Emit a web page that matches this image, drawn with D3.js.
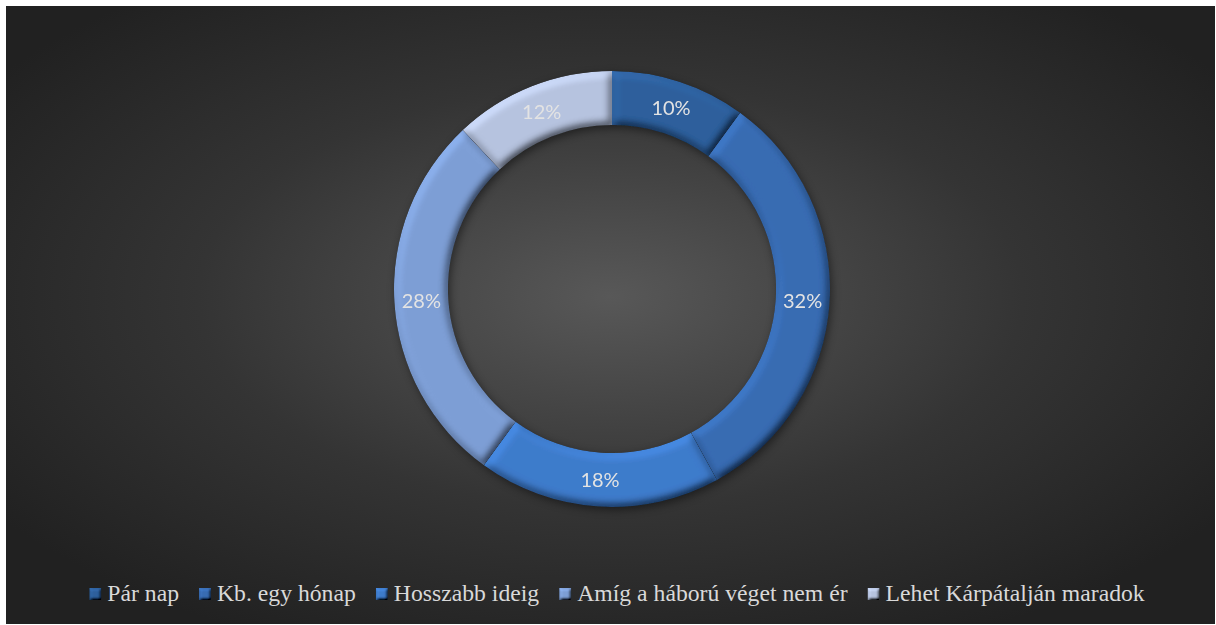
<!DOCTYPE html>
<html>
<head>
<meta charset="utf-8">
<script src="https://cdn.jsdelivr.net/npm/d3@7"></script>
<style>
  html, body { margin: 0; padding: 0; background: #ffffff; }
</style>
</head>
<body>
<svg id="chart" width="1216" height="625"></svg>
<script>
// Data
const categories = ["Pár nap", "Kb. egy hónap", "Hosszabb ideig", "Amíg a háború véget nem ér", "Lehet Kárpátalján maradok"];
const values = [10, 32, 18, 28, 12];
const colors = ["#2d5f9c", "#376bb2", "#3e7bcb", "#7d9ed5", "#b6c3df"];

const svg = d3.select("#chart");
const width = +svg.attr("width");
const height = +svg.attr("height");

const defs = svg.append("defs");

// background gradient
const bg = defs.append("radialGradient")
  .attr("id", "bgGrad")
  .attr("cx", "50%").attr("cy", "47%").attr("r", "62%");
bg.append("stop").attr("offset", "0%").attr("stop-color", "#585858");
bg.append("stop").attr("offset", "55%").attr("stop-color", "#343434");
bg.append("stop").attr("offset", "100%").attr("stop-color", "#212121");

// bevel filter for segments
function bevel(id, blur, scale) {
  const f = defs.append("filter").attr("id", id)
    .attr("x", "-20%").attr("y", "-20%").attr("width", "140%").attr("height", "140%");
  f.append("feGaussianBlur").attr("in", "SourceAlpha").attr("stdDeviation", blur).attr("result", "blur");
  f.append("feDiffuseLighting").attr("in", "blur").attr("surfaceScale", scale)
    .attr("diffuseConstant", 1).attr("lighting-color", "#ffffff").attr("result", "light")
    .append("feDistantLight").attr("azimuth", 235).attr("elevation", 52);
  f.append("feComposite").attr("in", "SourceGraphic").attr("in2", "light")
    .attr("operator", "arithmetic").attr("k1", 1.27).attr("k2", 0).attr("k3", 0).attr("k4", 0)
    .attr("result", "lit");
  f.append("feComposite").attr("in", "lit").attr("in2", "SourceAlpha").attr("operator", "in");
}
bevel("bevel", 4, 5);
bevel("bevelSmall", 1.5, 3);

const shadow = defs.append("filter").attr("id", "shadow")
  .attr("x", "-20%").attr("y", "-20%").attr("width", "140%").attr("height", "140%");
shadow.append("feDropShadow").attr("dx", 2).attr("dy", 3).attr("stdDeviation", 4)
  .attr("flood-color", "#000").attr("flood-opacity", 0.45);

// background
svg.append("rect")
  .attr("x", 6).attr("y", 6)
  .attr("width", width - 7).attr("height", height - 7)
  .attr("fill", "url(#bgGrad)");

// donut
const cx = 612, cy = 289;
const outerR = 218, innerR = 164;

const pie = d3.pie().sort(null).value(d => d);
const arcs = pie(values);
const arc = d3.arc().innerRadius(innerR).outerRadius(outerR);
const labelArc = d3.arc().innerRadius((innerR + outerR) / 2).outerRadius((innerR + outerR) / 2);

const ring = svg.append("g")
  .attr("transform", `translate(${cx},${cy})`)
  .attr("filter", "url(#shadow)");

ring.selectAll("path")
  .data(arcs)
  .join("path")
  .attr("d", arc)
  .attr("fill", (d, i) => colors[i])
  .attr("filter", "url(#bevel)");

// value labels
const total = d3.sum(values);
svg.append("g")
  .attr("transform", `translate(${cx},${cy})`)
  .selectAll("text")
  .data(arcs)
  .join("text")
  .attr("x", d => labelArc.centroid(d)[0])
  .attr("y", d => labelArc.centroid(d)[1])
  .attr("dy", "0.36em")
  .attr("text-anchor", "middle")
  .attr("font-family", "Lato, 'Open Sans', sans-serif")
  .attr("font-size", 20)
  .attr("fill", "#e3e3e3")
  .text(d => Math.round(d.data / total * 100) + "%");

// legend
const legend = svg.append("g");
const item = legend.selectAll("g")
  .data(categories)
  .join("g");

item.append("rect")
  .attr("width", 12).attr("height", 12)
  .attr("y", -13)
  .attr("fill", (d, i) => colors[i])
  .attr("filter", "url(#bevelSmall)");

item.append("text")
  .attr("x", 18)
  .attr("font-family", "'Liberation Serif', 'Times New Roman', serif")
  .attr("font-size", 23.7)
  .attr("fill", "#d9d9d9")
  .text(d => d);

let pos = 0;
const itemGap = 20;
item.each(function () {
  const w = d3.select(this).select("text").node().getComputedTextLength() + 18;
  d3.select(this).attr("data-x", pos);
  pos += w + itemGap;
});
const legendW = pos - itemGap;
const legendX = (87 + 1147) / 2 - legendW / 2;
item.attr("transform", function () {
  return `translate(${legendX + (+d3.select(this).attr("data-x"))},601)`;
});
</script>
</body>
</html>
